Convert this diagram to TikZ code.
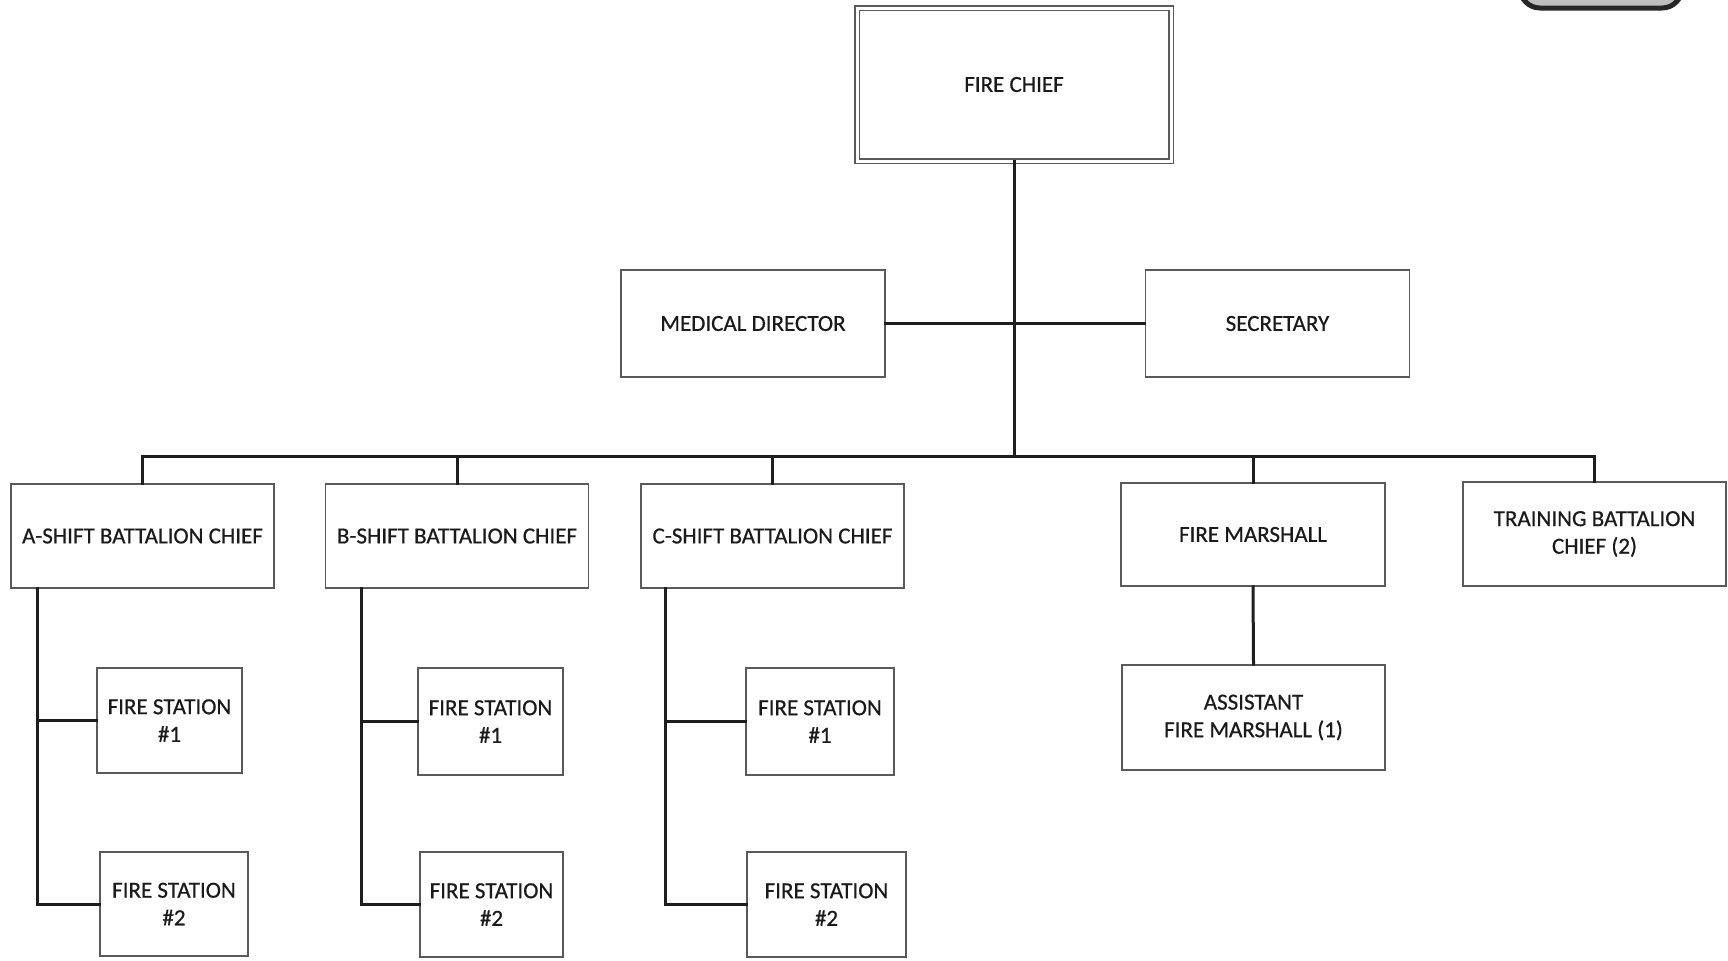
\documentclass[tikz,border=0pt]{standalone}
\usepackage{fontspec}
\setmainfont[FakeBold=0.6]{Carlito}
\definecolor{boxline}{HTML}{5A5A5A}
\definecolor{conn}{HTML}{1E1E1E}
\definecolor{txt}{HTML}{1A1A1A}
\begin{document}
\begin{tikzpicture}[x=0.5pt,y=-0.5pt,
  box/.style={draw=boxline, line width=0.9pt, fill=white, align=center, inner sep=0pt,
    font=\fontsize{11.5}{13.8}\selectfont, text=txt},
  conn/.style={draw=conn, line width=1.5pt, line cap=rect, line join=miter}]
\useasboundingbox (0,0) rectangle (1728,960);
\begin{scope}
\clip (0,0) rectangle (1728,960);
\draw[line width=2.5pt, draw=black!85, fill=black!25, rounded corners=10pt] (1520,-60) rectangle (1682,8);
\end{scope}

\node[box, double, double distance=1.5pt, line width=0.6pt, minimum width=157pt, minimum height=76.5pt] (chief) at (1014,84.5) {FIRE CHIEF};
\node[box, minimum width=132pt, minimum height=53.5pt] (med) at (753,323.5) {MEDICAL DIRECTOR};
\node[box, minimum width=132pt, minimum height=53.5pt] (sec) at (1277.5,323.5) {SECRETARY};

\node[box, minimum width=131.5pt, minimum height=52pt] (A) at (142.5,536) {A-SHIFT BATTALION CHIEF};
\node[box, minimum width=131.5pt, minimum height=52pt] (B) at (457,536) {B-SHIFT BATTALION CHIEF};
\node[box, minimum width=131.5pt, minimum height=52pt] (C) at (772.5,536) {C-SHIFT BATTALION CHIEF};
\node[box, minimum width=132pt, minimum height=51.5pt] (FM) at (1253,534.5) {FIRE MARSHALL};
\node[box, minimum width=131.5pt, minimum height=52pt] (TR) at (1594.5,534) {TRAINING BATTALION\\CHIEF (2)};
\node[box, minimum width=131.5pt, minimum height=52.5pt] (AFM) at (1253.5,717.5) {ASSISTANT\\FIRE MARSHALL (1)};

\node[box, minimum width=72.5pt, minimum height=52.5pt] (A1) at (169.5,720.5) {FIRE STATION\\\#1};
\node[box, minimum width=74pt, minimum height=52pt] (A2) at (174,904) {FIRE STATION\\\#2};
\node[box, minimum width=72.5pt, minimum height=53.5pt] (B1) at (490.5,721.5) {FIRE STATION\\\#1};
\node[box, minimum width=71.5pt, minimum height=52.5pt] (B2) at (491.5,904.5) {FIRE STATION\\\#2};
\node[box, minimum width=74pt, minimum height=53.5pt] (C1) at (820,721.5) {FIRE STATION\\\#1};
\node[box, minimum width=79.5pt, minimum height=52.5pt] (C2) at (826.5,904.5) {FIRE STATION\\\#2};

\coordinate (bus) at (1014,456);

\draw[conn] (chief.south) -- (bus);
\draw[conn] (med.east) -- (sec.west);
\draw[conn] (A.north) |- (bus);
\draw[conn] (B.north) |- (bus);
\draw[conn] (C.north) |- (bus);
\draw[conn] (FM.north) |- (bus);
\draw[conn] (TR.north) |- (bus);
\draw[conn] (FM.south) -- (AFM.north);

\draw[conn] ([xshift=13.5pt]A.south west) |- (A1.west);
\draw[conn] ([xshift=13.5pt]A.south west) |- (A2.west);
\draw[conn] ([xshift=18.5pt]B.south west) |- (B1.west);
\draw[conn] ([xshift=18.5pt]B.south west) |- (B2.west);
\draw[conn] ([xshift=12.5pt]C.south west) |- (C1.west);
\draw[conn] ([xshift=12.5pt]C.south west) |- (C2.west);
\end{tikzpicture}
\end{document}
